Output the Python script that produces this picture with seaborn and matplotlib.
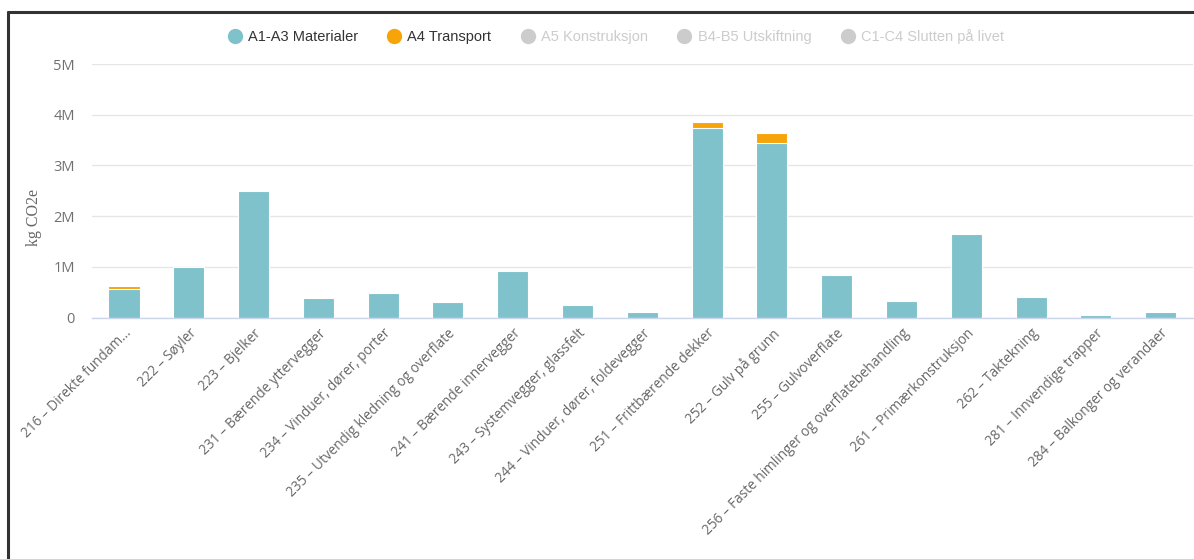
import matplotlib
matplotlib.use("Agg")
import matplotlib.pyplot as plt
import seaborn as sns
import pandas as pd
from matplotlib.lines import Line2D
from matplotlib.ticker import FuncFormatter

categories = [
    "216 – Direkte fundam...", "222 – Søyler", "223 – Bjelker",
    "231 – Bærende yttervegger", "234 – Vinduer, dører, porter",
    "235 – Utvendig kledning og overflate", "241 – Bærende innervegger",
    "243 – Systemvegger, glassfelt", "244 – Vinduer, dører, foldevegger",
    "251 – Frittbærende dekker", "252 – Gulv på grunn", "255 – Gulvoverflate",
    "256 – Faste himlinger og overflatebehandling", "261 – Primærkonstruksjon",
    "262 – Taktekning", "281 – Innvendige trapper", "284 – Balkonger og verandaer",
]
a1a3 = [570000, 1000000, 2490000, 390000, 480000, 310000, 920000, 250000,
        106000, 3740000, 3440000, 840000, 320000, 1650000, 400000, 50000, 100000]
a4 = [60000, 0, 0, 0, 0, 0, 0, 0, 0, 120000, 190000, 0, 0, 0, 0, 0, 0]
series_names = ["A1-A3 Materialer", "A4 Transport", "A5 Konstruksjon",
                "B4-B5 Utskiftning", "C1-C4 Slutten på livet"]
y_ticks = [0, 1e6, 2e6, 3e6, 4e6, 5e6]

teal = "#7fc2cb"
orange = "#f7a30a"
inactive = "#cccccc"

df = pd.DataFrame({"cat": categories, "a1a3": a1a3, "a4": a4})
df["total"] = df["a1a3"] + df["a4"]

sns.set_theme(style="white")
plt.rcParams["font.family"] = ["Open Sans", "DejaVu Sans"]

fig = plt.figure(figsize=(11.94, 5.59), dpi=100)
ax = fig.add_axes([0.0767, 0.432, 0.9225, 0.4535])

sns.barplot(data=df, x="cat", y="total", color=orange, saturation=1,
            width=0.48, edgecolor="white", linewidth=0.8, ax=ax)
sns.barplot(data=df, x="cat", y="a1a3", color=teal, saturation=1,
            width=0.48, edgecolor="white", linewidth=0.8, ax=ax)

ax.set_ylim(0, 5e6)
ax.set_xlim(-0.5, len(categories) - 0.5)
ax.set_yticks(y_ticks)
ax.yaxis.set_major_formatter(FuncFormatter(lambda v, p: "0" if v == 0 else f"{int(v/1e6)}M"))
ax.grid(axis="y", color="#e6e6e6", linewidth=1)
ax.set_axisbelow(True)
for s in ["top", "right", "left"]:
    ax.spines[s].set_visible(False)
ax.spines["bottom"].set_color("#ccd6eb")
ax.spines["bottom"].set_linewidth(1)
ax.tick_params(axis="y", length=0, pad=12, labelsize=10.5, labelcolor="#707070")
ax.tick_params(axis="x", length=0, pad=6, labelsize=9.8, labelcolor="#666666")
plt.setp(ax.get_xticklabels(), rotation=45, ha="right", rotation_mode="anchor")
ax.set_xlabel("")
ax.set_ylabel("kg CO2e", fontsize=11.5, color="#666666", family=["Liberation Serif"])
ax.yaxis.set_label_coords(-0.045, 0.394)

handles = []
colors = [teal, orange, inactive, inactive, inactive]
for c in colors:
    handles.append(Line2D([], [], marker="o", linestyle="", markersize=10,
                          markerfacecolor=c, markeredgecolor=c))
leg = fig.legend(handles, series_names, ncol=5, loc="center",
                 bbox_to_anchor=(0.515, 0.934), frameon=False,
                 prop={"family": ["Liberation Sans", "DejaVu Sans"], "size": 10.5},
                 handletextpad=0.3, columnspacing=1.9, handlelength=1.2)
for t, c in zip(leg.get_texts(), ["#333333", "#333333", inactive, inactive, inactive]):
    t.set_color(c)

# outer frame (top and left dark border)
fig.add_artist(Line2D([7.5 / 1194, 1.0], [1 - 11.5 / 559, 1 - 11.5 / 559],
                      transform=fig.transFigure, color="#333333", linewidth=2.2))
fig.add_artist(Line2D([7.5 / 1194, 7.5 / 1194], [0, 1 - 11.5 / 559],
                      transform=fig.transFigure, color="#333333", linewidth=2.2))

fig.savefig("out.png", dpi=100)
